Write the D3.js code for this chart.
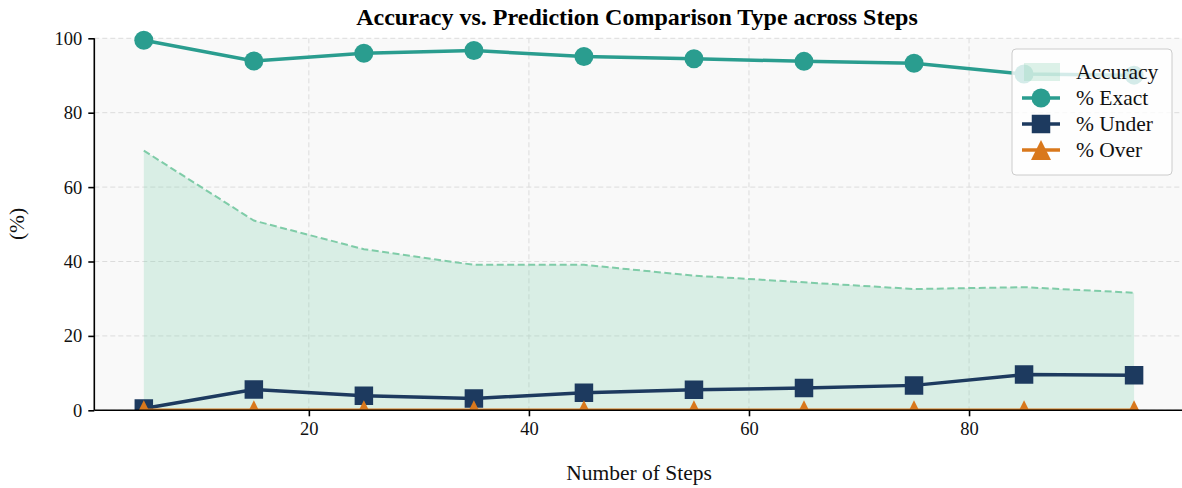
<!DOCTYPE html>
<html>
<head>
<meta charset="utf-8">
<script src="https://cdn.jsdelivr.net/npm/d3@7"></script>
<style>
  body { margin: 0; background: #fff; }
  svg { display: block; font-family: "Liberation Serif", "DejaVu Serif", serif; }
</style>
</head>
<body>
<div id="chart"></div>
<script>
// ── Datos ────────────────────────────────────────────
const steps    = [5, 15, 25, 35, 45, 55, 65, 75, 85, 95];
const accuracy = [69.8, 51.0, 43.3, 39.1, 39.1, 36.2, 34.4, 32.6, 33.1, 31.6];
const exact    = [99.5, 93.9, 96.0, 96.7, 95.1, 94.5, 93.8, 93.3, 90.4, 90.1];
const under    = [0.5, 5.6, 3.9, 3.2, 4.7, 5.5, 6.0, 6.7, 9.6, 9.4];
const over     = [0, 0, 0, 0, 0, 0, 0, 0, 0, 0];
const xTicks   = [20, 40, 60, 80];
const yTicks   = [0, 20, 40, 60, 80, 100];

const W = 1182, H = 488;
const mLeft = 94.3, mBottom = 410.3, mTop = 38.3, mRight = 1183.6;

const svg = d3.select('#chart').append('svg').attr('width', W).attr('height', H);

const x = d3.scaleLinear().domain([0.5, 99.5]).range([mLeft, mRight]);
const y = d3.scaleLinear().domain([0, 100]).range([mBottom, mTop]);

// fondo del área
svg.append('rect').attr('x', mLeft).attr('y', mTop).attr('width', mRight - mLeft).attr('height', mBottom - mTop)
    .attr('fill', '#f9f9f9');

svg.append('clipPath').attr('id', 'clip').append('rect')
    .attr('x', mLeft).attr('y', 0).attr('width', mRight - mLeft).attr('height', mBottom);

// Rejilla
const grid = svg.append('g');
yTicks.forEach(t => {
    grid.append('line').attr('x1', mLeft).attr('x2', mRight).attr('y1', y(t)).attr('y2', y(t))
        .attr('stroke', '#dcdcdc').attr('stroke-width', 1).attr('stroke-dasharray', '5,3');
});
xTicks.forEach(t => {
    grid.append('line').attr('x1', x(t)).attr('x2', x(t)).attr('y1', mTop).attr('y2', mBottom)
        .attr('stroke', '#dcdcdc').attr('stroke-width', 1).attr('stroke-dasharray', '5,3');
});

const plot = svg.append('g').attr('clip-path', 'url(#clip)');

// Área de accuracy
plot.append('path').datum(steps.map((s, i) => [s, accuracy[i]]))
    .attr('d', d3.area().x(d => x(d[0])).y0(y(0)).y1(d => y(d[1])))
    .attr('fill', '#8fd3b6').attr('fill-opacity', 0.3);
plot.append('path').datum(steps.map((s, i) => [s, accuracy[i]]))
    .attr('d', d3.line().x(d => x(d[0])).y(d => y(d[1])))
    .attr('fill', 'none').attr('stroke', '#7fcca8').attr('stroke-width', 2)
    .attr('stroke-dasharray', '7,3.5');

const series = [
    { name: '% Exact', values: exact, color: '#2a9d8f', marker: 'circle' },
    { name: '% Under', values: under, color: '#1d3a5f', marker: 'square' },
    { name: '% Over',  values: over,  color: '#d9781c', marker: 'triangle' }
];

const markerPath = (type) => {
    if (type === 'circle') return d3.symbol(d3.symbolCircle, Math.PI * 9.5 * 9.5)();
    if (type === 'square') return d3.symbol(d3.symbolSquare, 18.5 * 18.5)();
    return 'M0,-10L10,10L-10,10Z';
};

series.forEach(s => {
    plot.append('path').datum(steps.map((st, i) => [st, s.values[i]]))
        .attr('d', d3.line().x(d => x(d[0])).y(d => y(d[1])))
        .attr('fill', 'none').attr('stroke', s.color).attr('stroke-width', 3.5);
    plot.append('g').selectAll('path').data(steps.map((st, i) => [st, s.values[i]])).join('path')
        .attr('transform', d => `translate(${x(d[0])},${y(d[1])})`)
        .attr('d', markerPath(s.marker))
        .attr('fill', s.color);
});

// Ejes
const xAxis = svg.append('g').attr('transform', `translate(0,${mBottom})`)
    .call(d3.axisBottom(x).tickValues(xTicks).tickSize(6).tickPadding(6));
const yAxis = svg.append('g').attr('transform', `translate(${mLeft},0)`)
    .call(d3.axisLeft(y).tickValues(yTicks).tickSize(6).tickPadding(6));
[xAxis, yAxis].forEach(a => {
    a.select('.domain').attr('stroke', '#000').attr('stroke-width', 1.6);
    a.selectAll('.tick line').attr('stroke', '#000').attr('stroke-width', 1.6);
    a.selectAll('.tick text').attr('fill', '#111').style('font-size', '18.5px')
        .style('font-family', '"Liberation Serif", serif');
});
xAxis.select('.domain').attr('d', `M${mLeft},0H${mRight}`);
yAxis.select('.domain').attr('d', `M0,${mBottom}V${mTop}`);

// Títulos
svg.append('text').attr('x', 637).attr('y', 25).attr('text-anchor', 'middle')
    .style('font-size', '24px').style('font-weight', 'bold').attr('fill', '#000')
    .text('Accuracy vs. Prediction Comparison Type across Steps');
svg.append('text').attr('x', 639).attr('y', 480).attr('text-anchor', 'middle')
    .style('font-size', '21.5px').attr('fill', '#111').text('Number of Steps');
svg.append('text').attr('transform', 'translate(24,224) rotate(-90)').attr('text-anchor', 'middle')
    .style('font-size', '21.5px').attr('fill', '#111').text('(%)');

// Leyenda
const lg = svg.append('g').attr('transform', 'translate(1012,49)');
lg.append('rect').attr('width', 160).attr('height', 126).attr('rx', 4)
    .attr('fill', '#fff').attr('fill-opacity', 0.8).attr('stroke', '#cccccc').attr('stroke-width', 1);
const rowY = [23, 49, 75, 101];
lg.append('rect').attr('x', 12).attr('y', rowY[0] - 9).attr('width', 36).attr('height', 18)
    .attr('fill', '#8fd3b6').attr('fill-opacity', 0.3);
series.forEach((s, i) => {
    const ry = rowY[i + 1];
    lg.append('line').attr('x1', 10).attr('x2', 48).attr('y1', ry).attr('y2', ry)
        .attr('stroke', s.color).attr('stroke-width', 3.5);
    lg.append('path').attr('transform', `translate(29,${ry})`).attr('d', markerPath(s.marker))
        .attr('fill', s.color);
});
['Accuracy', ...series.map(s => s.name)].forEach((t, i) => {
    lg.append('text').attr('x', 64).attr('y', rowY[i] + 7).style('font-size', '21.5px')
        .attr('fill', '#111').text(t);
});
</script>
</body>
</html>
